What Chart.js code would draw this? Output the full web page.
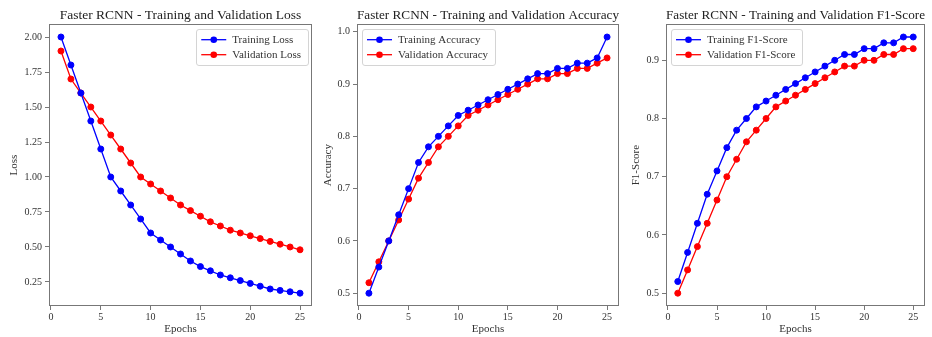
<!DOCTYPE html>
<html><head><meta charset="utf-8">
<script src="https://cdn.jsdelivr.net/npm/chart.js@4.4.1/dist/chart.umd.min.js"></script>
<style>
html,body{margin:0;padding:0;background:#fff;overflow:hidden;width:932px;height:337px;}
canvas{position:absolute;top:0;}
</style></head><body>
<canvas id="c1" width="320" height="337" style="left:0px"></canvas>
<canvas id="c2" width="312" height="337" style="left:314px"></canvas>
<canvas id="c3" width="310" height="337" style="left:622px"></canvas>
<script>
const epochs = [1,2,3,4,5,6,7,8,9,10,11,12,13,14,15,16,17,18,19,20,21,22,23,24,25];
const trainLoss = [2.00,1.80,1.60,1.40,1.20,1.00,0.90,0.80,0.70,0.60,0.55,0.50,0.45,0.40,0.36,0.33,0.30,0.28,0.26,0.24,0.22,0.20,0.19,0.18,0.17];
const valLoss   = [1.90,1.70,1.60,1.50,1.40,1.30,1.20,1.10,1.00,0.95,0.90,0.85,0.80,0.76,0.72,0.68,0.65,0.62,0.60,0.58,0.56,0.54,0.52,0.50,0.48];
const trainAcc  = [0.50,0.55,0.60,0.65,0.70,0.75,0.78,0.80,0.82,0.84,0.85,0.86,0.87,0.88,0.89,0.90,0.91,0.92,0.92,0.93,0.93,0.94,0.94,0.95,0.99];
const valAcc    = [0.52,0.56,0.60,0.64,0.68,0.72,0.75,0.78,0.80,0.82,0.84,0.85,0.86,0.87,0.88,0.89,0.90,0.91,0.91,0.92,0.92,0.93,0.93,0.94,0.95];
const trainF1   = [0.52,0.57,0.62,0.67,0.71,0.75,0.78,0.80,0.82,0.83,0.84,0.85,0.86,0.87,0.88,0.89,0.90,0.91,0.91,0.92,0.92,0.93,0.93,0.94,0.94];
const valF1     = [0.50,0.54,0.58,0.62,0.66,0.70,0.73,0.76,0.78,0.80,0.82,0.83,0.84,0.85,0.86,0.87,0.88,0.89,0.89,0.90,0.90,0.91,0.91,0.92,0.92];
const xTicks    = [0,5,10,15,20,25];
const lossTicks = [0.25,0.50,0.75,1.00,1.25,1.50,1.75,2.00];
const accTicks  = [0.5,0.6,0.7,0.8,0.9,1.0];
const f1Ticks   = [0.5,0.6,0.7,0.8,0.9];

const SERIF = '"Liberation Serif","DejaVu Serif",serif';
Chart.defaults.font.family = SERIF;
Chart.defaults.color = '#333';
const AXIS = '#777';

const framePlugin = {
  id: 'frame',
  afterDatasetsDraw(chart) {
    const a = chart.chartArea, ctx = chart.ctx;
    ctx.save();
    ctx.strokeStyle = AXIS; ctx.lineWidth = 1;
    ctx.strokeRect(Math.round(a.left)+0.5, Math.round(a.top)+0.5,
                   Math.round(a.right-a.left)-1, Math.round(a.bottom-a.top)-1);
    ctx.restore();
  }
};

const innerLegend = {
  id: 'innerLegend',
  afterDraw(chart, args, opts) {
    const ctx = chart.ctx, a = chart.chartArea;
    ctx.save();
    ctx.font = '11px ' + SERIF;
    const items = chart.data.datasets;
    const tw = Math.max(...items.map(d => ctx.measureText(d.label).width));
    const w = 36 + tw + 7, h = 36;
    const x = opts.side === 'right' ? a.right - 4 - w : a.left + 5;
    const y = a.top + 5;
    ctx.fillStyle = 'rgba(255,255,255,0.85)';
    ctx.strokeStyle = '#d4d4d4';
    ctx.lineWidth = 1;
    ctx.beginPath();
    ctx.roundRect(Math.round(x)+0.5, Math.round(y)+0.5, Math.round(w), h, 2.5);
    ctx.fill(); ctx.stroke();
    items.forEach((d, i) => {
      const cy = y + 10.5 + i * 15;
      ctx.strokeStyle = d.borderColor; ctx.lineWidth = 1.3;
      ctx.beginPath(); ctx.moveTo(x + 5, cy); ctx.lineTo(x + 30, cy); ctx.stroke();
      ctx.fillStyle = d.borderColor;
      ctx.beginPath(); ctx.arc(x + 17.5, cy, 3.3, 0, Math.PI * 2); ctx.fill();
      ctx.fillStyle = '#333';
      ctx.textBaseline = 'middle'; ctx.textAlign = 'left';
      ctx.fillText(d.label, x + 36, cy + 0.5);
    });
    ctx.restore();
  }
};

function ds(label, vals, color) {
  return {
    label: label,
    data: epochs.map((e, i) => ({x: e, y: vals[i]})),
    borderColor: color, backgroundColor: color,
    pointBackgroundColor: color, pointBorderColor: color,
    borderWidth: 1.3, pointRadius: 3, pointBorderWidth: 1,
    pointHoverRadius: 3, tension: 0, clip: false
  };
}

function makeChart(id, cfg) {
  return new Chart(document.getElementById(id), {
    type: 'line',
    data: { datasets: [ds(cfg.l1, cfg.train, '#0000ff'), ds(cfg.l2, cfg.val, '#ff0000')] },
    plugins: [framePlugin, innerLegend],
    options: {
      responsive: false, animation: false, devicePixelRatio: 1,
      layout: { padding: { left: 0, right: cfg.padRight, top: 0, bottom: 0 } },
      plugins: {
        legend: { display: false },
        tooltip: { enabled: false },
        title: {
          display: true, text: cfg.title, fullSize: false,
          font: { size: 13.5, weight: 'normal', family: SERIF },
          color: '#222', padding: { top: 7, bottom: 1 }
        },
        innerLegend: { side: cfg.side }
      },
      scales: {
        x: {
          type: 'linear', min: -0.2, max: 26.2,
          afterBuildTicks: s => { s.ticks = xTicks.map(v => ({value: v})); },
          afterFit: s => { s.height = 31; },
          ticks: { font: { size: 10 }, color: '#333', padding: 1, maxRotation: 0,
                   callback: v => String(v) },
          grid: { display: true, drawOnChartArea: false, drawTicks: true, tickLength: 4, color: AXIS },
          border: { display: false },
          title: { display: true, text: 'Epochs', font: { size: 11 }, color: '#333',
                   padding: { top: 0, bottom: 1.5 } }
        },
        y: {
          type: 'linear', min: cfg.yMin, max: cfg.yMax,
          afterBuildTicks: s => { s.ticks = cfg.yTicks.map(v => ({value: v})); },
          afterFit: s => { s.width = cfg.yWidth; },
          ticks: { font: { size: 10 }, color: '#333', padding: 3,
                   callback: v => Number(v).toFixed(cfg.dec) },
          grid: { display: true, drawOnChartArea: false, drawTicks: true, tickLength: 4, color: AXIS },
          border: { display: false },
          title: { display: true, text: cfg.yTitle, font: { size: 11 }, color: '#333',
                   padding: { top: 8, bottom: 0 } }
        }
      }
    }
  });
}

makeChart('c1', { title: 'Faster RCNN - Training and Validation Loss',
  l1: 'Training Loss', l2: 'Validation Loss', train: trainLoss, val: valLoss,
  yTicks: lossTicks, yMin: 0.0785, yMax: 2.0915, dec: 2, yTitle: 'Loss',
  side: 'right', yWidth: 49, padRight: 8 });
makeChart('c2', { title: 'Faster RCNN - Training and Validation Accuracy',
  l1: 'Training Accuracy', l2: 'Validation Accuracy', train: trainAcc, val: valAcc,
  yTicks: accTicks, yMin: 0.4755, yMax: 1.0145, dec: 1, yTitle: 'Accuracy',
  side: 'left', yWidth: 43, padRight: 7 });
makeChart('c3', { title: 'Faster RCNN - Training and Validation F1-Score',
  l1: 'Training F1-Score', l2: 'Validation F1-Score', train: trainF1, val: valF1,
  yTicks: f1Ticks, yMin: 0.478, yMax: 0.962, dec: 1, yTitle: 'F1-Score',
  side: 'left', yWidth: 44, padRight: 7 });
</script>
</body></html>
